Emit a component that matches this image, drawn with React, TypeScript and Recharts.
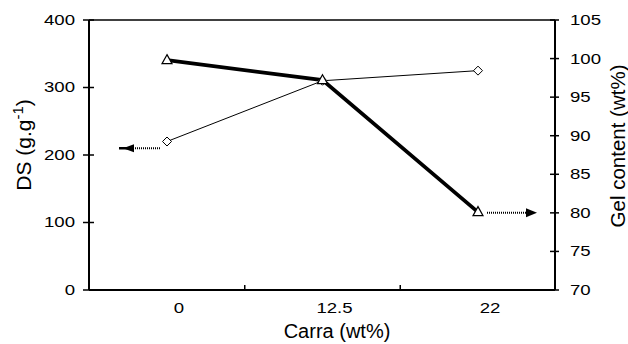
import { LineChart, Line, XAxis, YAxis, ReferenceLine, ReferenceDot, Label } from "recharts";

const carra = ["0", "12.5", "22"];
const dsValues = [220, 310, 325];
const gelValues = [99.8, 97.2, 80.1];
const dsTicks = [0, 100, 200, 300, 400];
const gelTicks = [70, 75, 80, 85, 90, 95, 100, 105];
// arrows pointing each series to its axis
const dsArrowAt = 210;
const gelArrowAt = 80;

const data = carra.map((c, i) => ({ carra: c, ds: dsValues[i], gel: gelValues[i] }));

const FONT = "'Liberation Sans', Arial, sans-serif";
const BAND_STEP = 155.5;

function XTick(props: any) {
  const { x, y, payload, index } = props;
  return (
    <g>
      {index < carra.length - 1 && (
        <line x1={x + BAND_STEP / 2} x2={x + BAND_STEP / 2} y1={y} y2={y - 5} stroke="#000" strokeWidth={1.5} />
      )}
      <text
        transform={`translate(${x + 12},${y + 18}) scale(1.2,1)`}
        textAnchor="middle"
        dominantBaseline="central"
        fontSize={15.5}
        fontFamily={FONT}
        fill="#000"
      >
        {payload.value}
      </text>
    </g>
  );
}

function LeftTick(props: any) {
  const { x, y, payload } = props;
  return (
    <g>
      <line x1={x - 6} x2={x + 5} y1={y} y2={y} stroke="#000" strokeWidth={1.5} />
      <text
        transform={`translate(${x - 14},${y}) scale(1.2,1)`}
        textAnchor="end"
        dominantBaseline="central"
        fontSize={15.5}
        fontFamily={FONT}
        fill="#000"
      >
        {payload.value}
      </text>
    </g>
  );
}

function RightTick(props: any) {
  const { x, y, payload } = props;
  return (
    <g>
      <line x1={x - 5} x2={x + 4} y1={y} y2={y} stroke="#000" strokeWidth={1.5} />
      <text
        transform={`translate(${x + 15},${y}) scale(1.2,1)`}
        textAnchor="start"
        dominantBaseline="central"
        fontSize={15.5}
        fontFamily={FONT}
        fill="#000"
      >
        {payload.value}
      </text>
    </g>
  );
}

function Diamond(props: any) {
  const { cx, cy } = props;
  if (cx == null || cy == null) return null;
  const r = 4.5;
  return (
    <polygon
      points={`${cx},${cy - r} ${cx + r},${cy} ${cx},${cy + r} ${cx - r},${cy}`}
      fill="#fff"
      stroke="#000"
      strokeWidth={1}
    />
  );
}

function Triangle(props: any) {
  const { cx, cy } = props;
  if (cx == null || cy == null) return null;
  return (
    <polygon
      points={`${cx},${cy - 5.5} ${cx + 5},${cy + 3.5} ${cx - 5},${cy + 3.5}`}
      fill="#fff"
      stroke="#000"
      strokeWidth={1.2}
    />
  );
}

function LeftArrow(props: any) {
  const { cx, cy } = props;
  return (
    <g>
      <line x1={cx - 7} x2={cx - 34} y1={cy} y2={cy} stroke="#000" strokeWidth={2} strokeDasharray="1 1" />
      <line x1={cx - 34} x2={cx - 48} y1={cy} y2={cy} stroke="#000" strokeWidth={2.5} />
      <polygon points={`${cx - 44},${cy} ${cx - 33},${cy - 4} ${cx - 33},${cy + 4}`} fill="#000" />
    </g>
  );
}

function RightArrow(props: any) {
  const { cx, cy } = props;
  return (
    <g>
      <line x1={cx + 9} x2={cx + 50} y1={cy} y2={cy} stroke="#000" strokeWidth={2} strokeDasharray="1 1" />
      <polygon points={`${cx + 59},${cy} ${cx + 48},${cy - 4.5} ${cx + 48},${cy + 4.5}`} fill="#000" />
    </g>
  );
}

export default function App() {
  return (
    <div style={{ width: 628, height: 344, background: "#fff" }}>
      <style>{"body{margin:0}"}</style>
      <LineChart width={628} height={344} data={data} margin={{ top: 20, right: 0, bottom: 0, left: 0 }}>
        <XAxis
          dataKey="carra"
          height={54}
          padding={{ left: 78, right: 77 }}
          axisLine={{ stroke: "#000", strokeWidth: 2 }}
          tickLine={false}
          tickSize={0}
          tickMargin={0}
          tick={<XTick />}
          interval={0}
        >
          <Label
            content={() => (
              <text x={337} y={338} textAnchor="middle" fontSize={20} fontFamily={FONT} fill="#000">
                Carra (wt%)
              </text>
            )}
          />
        </XAxis>
        <YAxis
          yAxisId="ds"
          orientation="left"
          width={89}
          domain={[0, 400]}
          ticks={dsTicks}
          interval={0}
          axisLine={{ stroke: "#000", strokeWidth: 2 }}
          tickLine={false}
          tickSize={0}
          tickMargin={0}
          tick={<LeftTick />}
        >
          <Label
            content={() => (
              <text
                transform="translate(31,145) rotate(-90)"
                textAnchor="middle"
                fontSize={21}
                fontFamily={FONT}
                fill="#000"
              >
                DS (g.g
                <tspan dy={-8} fontSize={15}>
                  -1
                </tspan>
                <tspan dy={8}>)</tspan>
              </text>
            )}
          />
        </YAxis>
        <YAxis
          yAxisId="gel"
          orientation="right"
          width={73}
          domain={[70, 105]}
          ticks={gelTicks}
          interval={0}
          axisLine={{ stroke: "#000", strokeWidth: 2 }}
          tickLine={false}
          tickSize={0}
          tickMargin={0}
          tick={<RightTick />}
        >
          <Label
            content={() => (
              <text
                transform="translate(625,146) rotate(-90)"
                textAnchor="middle"
                fontSize={20.5}
                fontFamily={FONT}
                fill="#000"
              >
                Gel content (wt%)
              </text>
            )}
          />
        </YAxis>
        <ReferenceLine yAxisId="ds" y={400} stroke="#000" strokeWidth={1.5} ifOverflow="visible" />
        <Line
          yAxisId="ds"
          dataKey="ds"
          stroke="#000"
          strokeWidth={1}
          dot={<Diamond />}
          activeDot={false}
          isAnimationActive={false}
        />
        <Line
          yAxisId="gel"
          dataKey="gel"
          stroke="#000"
          strokeWidth={3.8}
          dot={<Triangle />}
          activeDot={false}
          isAnimationActive={false}
        />
        <ReferenceDot yAxisId="ds" x="0" y={dsArrowAt} shape={<LeftArrow />} ifOverflow="visible" />
        <ReferenceDot yAxisId="gel" x="22" y={gelArrowAt} shape={<RightArrow />} ifOverflow="visible" />
      </LineChart>
    </div>
  );
}
